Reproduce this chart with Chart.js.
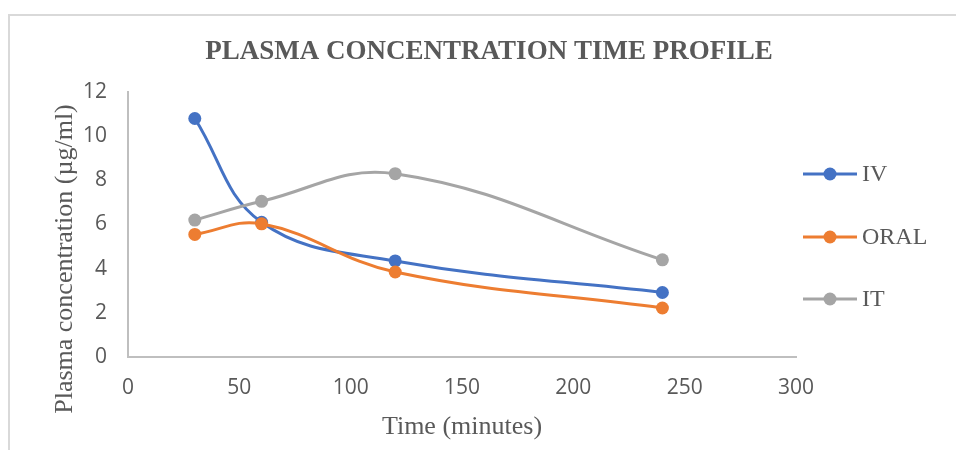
<!DOCTYPE html>
<html>
<head>
<meta charset="utf-8">
<script src="https://cdn.jsdelivr.net/npm/chart.js@4/dist/chart.umd.min.js"></script>
<style>
  html, body { margin: 0; padding: 0; background: #ffffff; }
  #wrap { position: relative; width: 956px; height: 450px; }
</style>
</head>
<body>
<div id="wrap"><canvas id="c" width="956" height="450"></canvas></div>
<script>
// ---- data ----
const times = [30, 60, 120, 240];
const ivValues = [10.8, 6.1, 4.35, 2.92];
const oralValues = [5.55, 6.03, 3.85, 2.22];
const itValues = [6.2, 7.05, 8.3, 4.4];
const seriesNames = ['IV', 'ORAL', 'IT'];
const xTicks = [0, 50, 100, 150, 200, 250, 300];
const yTicks = [0, 2, 4, 6, 8, 10, 12];
const chartTitle = 'PLASMA CONCENTRATION TIME PROFILE';
const xTitle = 'Time (minutes)';
const yTitle = 'Plasma concentration (µg/ml)';

const colors = ['#4472C4', '#ED7D31', '#A5A5A5'];
const textColor = '#595959';
const serif = '"Liberation Serif", "Times New Roman", serif';
const sans = '"Open Sans", Lato, sans-serif';

function toPoints(vals) { return times.map((t, i) => ({ x: t, y: vals[i] })); }
const allValues = [ivValues, oralValues, itValues];

const datasets = allValues.map((vals, i) => ({
  label: seriesNames[i],
  data: toPoints(vals),
  borderColor: colors[i],
  backgroundColor: colors[i],
  borderWidth: 3,
  pointRadius: 6.5,
  pointHoverRadius: 6.5,
  pointBorderWidth: 0,
  pointBackgroundColor: colors[i],
  tension: 0.4,
  fill: false,
  order: 3 - i
}));

const framePlugin = {
  id: 'frame',
  beforeDraw(chart) {
    const ctx = chart.ctx;
    ctx.save();
    ctx.fillStyle = '#ffffff';
    ctx.fillRect(0, 0, chart.width, chart.height);
    ctx.strokeStyle = '#d9d9d9';
    ctx.lineWidth = 2;
    ctx.beginPath();
    ctx.moveTo(9, chart.height);
    ctx.lineTo(9, 15);
    ctx.lineTo(chart.width, 15);
    ctx.stroke();
    ctx.restore();
  }
};

const extrasPlugin = {
  id: 'extras',
  afterDraw(chart) {
    const ctx = chart.ctx;
    // chart title
    ctx.save();
    ctx.fillStyle = textColor;
    ctx.font = 'bold 27px ' + serif;
    ctx.textAlign = 'center';
    ctx.textBaseline = 'middle';
    ctx.fillText(chartTitle, 489, 52);
    ctx.restore();

    // y axis title
    ctx.save();
    ctx.fillStyle = textColor;
    ctx.font = '26px ' + serif;
    ctx.textAlign = 'center';
    ctx.textBaseline = 'alphabetic';
    ctx.translate(72, 259);
    ctx.rotate(-Math.PI / 2);
    ctx.fillText(yTitle, 0, 0);
    ctx.restore();

    // legend
    ctx.save();
    const ys = [174, 237, 299];
    chart.data.datasets.forEach((ds, i) => {
      const y = ys[i];
      ctx.strokeStyle = ds.borderColor;
      ctx.lineWidth = 3;
      ctx.beginPath();
      ctx.moveTo(803, y);
      ctx.lineTo(857, y);
      ctx.stroke();
      ctx.fillStyle = ds.borderColor;
      ctx.beginPath();
      ctx.arc(830, y, 6.5, 0, Math.PI * 2);
      ctx.fill();
      ctx.fillStyle = textColor;
      ctx.font = '24px ' + serif;
      ctx.textAlign = 'left';
      ctx.textBaseline = 'middle';
      ctx.fillText(ds.label, 862, y + 1);
    });
    ctx.restore();
  }
};

new Chart(document.getElementById('c'), {
  type: 'line',
  data: { datasets },
  options: {
    responsive: false,
    animation: false,
    devicePixelRatio: 1,
    layout: { padding: { left: 0, right: 160, top: 92, bottom: 0 } },
    plugins: {
      legend: { display: false },
      tooltip: { enabled: false },
      title: { display: false }
    },
    scales: {
      x: {
        type: 'linear',
        min: 0,
        max: 300,
        afterBuildTicks: (s) => { s.ticks = xTicks.map(v => ({ value: v })); },
        afterFit: (s) => { s.height = 93; },
        grid: { display: false, drawTicks: false },
        border: { display: true, color: '#bfbfbf', width: 2 },
        ticks: { color: textColor, padding: 18, font: { family: sans, size: 21 } },
        title: {
          display: true,
          text: xTitle,
          color: textColor,
          font: { family: serif, size: 26, lineHeight: 1.2 },
          padding: { top: 0, bottom: 7 }
        }
      },
      y: {
        type: 'linear',
        min: 0,
        max: 12,
        afterBuildTicks: (s) => { s.ticks = yTicks.map(v => ({ value: v })); },
        afterFit: (s) => { s.width = 128; },
        grid: { display: false, drawTicks: false },
        border: { display: true, color: '#bfbfbf', width: 2 },
        ticks: { color: textColor, padding: 21, font: { family: sans, size: 21 } },
        title: { display: false }
      }
    }
  },
  plugins: [framePlugin, extrasPlugin]
});
</script>
</body>
</html>
